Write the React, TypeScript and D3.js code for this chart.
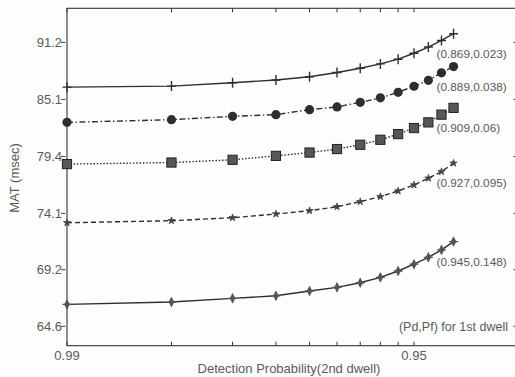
import React from "react";
import * as d3 from "d3";

// x positions are the 2nd-dwell Pd steps, drawn on a log axis (1 = 0.99, 10 = 0.95)
const steps = [1, 2, 3, 4, 5, 6, 7, 8, 9, 10, 11, 12, 13];
const xTickSteps = [1, 2, 3, 4, 5, 6, 7, 8, 9, 10];
const xTickLabels: Record<number, string> = { 1: "0.99", 10: "0.95" };
const yTicks = [64.6, 69.2, 74.1, 79.4, 85.1, 91.2];

const matPlus = [86.38, 86.49, 86.84, 87.13, 87.48, 87.93, 88.38, 88.85, 89.36, 90.01, 90.69, 91.42, 92.17];
const matCircle = [82.76, 83.03, 83.37, 83.54, 84.05, 84.33, 84.8, 85.26, 85.84, 86.47, 87.1, 87.89, 88.56];
const matSquare = [78.67, 78.82, 79.08, 79.46, 79.78, 80.12, 80.54, 81.03, 81.59, 82.19, 82.76, 83.54, 84.23];
const matStar = [73.26, 73.44, 73.71, 74.04, 74.34, 74.7, 75.16, 75.62, 76.14, 76.7, 77.33, 77.95, 78.76];
const matDiamond = [66.34, 66.53, 66.83, 67.04, 67.43, 67.73, 68.11, 68.56, 69.09, 69.66, 70.25, 70.88, 71.6];

const firstDwell = ["(0.869,0.023)", "(0.889,0.038)", "(0.909,0.06)", "(0.927,0.095)", "(0.945,0.148)"];

const series = [
  { name: "plus", values: matPlus, dash: "none", marker: "plus" },
  { name: "circle", values: matCircle, dash: "6 2.5 1.5 2.5", marker: "circle" },
  { name: "square", values: matSquare, dash: "1.5 1.8", marker: "square" },
  { name: "star", values: matStar, dash: "5 3", marker: "star" },
  { name: "diamond", values: matDiamond, dash: "none", marker: "diamond" },
];

const ink = "#2e2e2e";
const textColor = "#5a5a5a";
const font = "'Liberation Sans', Arial, sans-serif";

function Marker({ type, x, y }: { type: string; x: number; y: number }) {
  if (type === "plus")
    return (
      <path d={`M${x - 4.5},${y}H${x + 4.5}M${x},${y - 5}V${y + 5}`} stroke={ink} strokeWidth={1.4} />
    );
  if (type === "circle") return <circle cx={x} cy={y} r={4.6} fill={ink} />;
  if (type === "square")
    return <rect x={x - 4.6} y={y - 4.6} width={9.2} height={9.2} fill="#575757" stroke="#222" strokeWidth={1} />;
  if (type === "star")
    return (
      <path
        d={d3.symbol(d3.symbolStar, 16)() as string}
        transform={`translate(${x},${y})`}
        fill="#444"
        stroke="#444"
        strokeWidth={0.8}
      />
    );
  return (
    <g transform={`translate(${x},${y})`}>
      <path d={d3.symbol(d3.symbolDiamond, 30)() as string} fill="#555" />
      <path d="M-4.5,0H4.5M0,-4.5V4.5" stroke="#555" strokeWidth={1.3} />
    </g>
  );
}

export default function App() {
  const width = 515;
  const height = 377;
  const left = 67;
  const top = 8.3;
  const bottom = 345.7;
  const right = 67 + 347 * Math.log10(20);

  const x = d3.scaleLog().domain([1, 20]).range([left, right]);
  const y = d3
    .scaleLog()
    .domain([Math.pow(10, 1.8), Math.pow(10, 1.978)])
    .range([bottom, top]);

  const line = d3
    .line<number>()
    .x((_, i) => x(steps[i]))
    .y((d) => y(d))
    .curve(d3.curveLinear);

  return (
    <svg
      width={width}
      height={height}
      style={{ position: "absolute", left: 0, top: 0, background: "#fdfdfd" }}
      fontFamily={font}
    >
      {/* frame */}
      <rect x={left} y={top} width={right - left} height={bottom - top} fill="none" stroke="#333" strokeWidth={1.1} />

      {/* x ticks, bottom and top */}
      {xTickSteps.map((s) => (
        <g key={s}>
          <line x1={x(s)} x2={x(s)} y1={bottom} y2={bottom - 4} stroke="#333" />
          <line x1={x(s)} x2={x(s)} y1={top} y2={top + 4} stroke="#333" />
          {xTickLabels[s] && (
            <text x={x(s)} y={bottom + 14} textAnchor="middle" fontSize={13} fill={textColor}>
              {xTickLabels[s]}
            </text>
          )}
        </g>
      ))}

      {/* y ticks, left and right */}
      {yTicks.map((t) => (
        <g key={t}>
          <line x1={left - 6} x2={left - 1.5} y1={y(t)} y2={y(t)} stroke="#444" />
          <line x1={right - 5} x2={right} y1={y(t)} y2={y(t)} stroke="#444" />
          <text x={left - 5} y={y(t)} dy="0.35em" textAnchor="end" fontSize={13} fill={textColor}>
            {t.toFixed(1)}
          </text>
        </g>
      ))}

      {/* curves */}
      {series.map((s, i) => {
        const last = s.values[s.values.length - 1];
        return (
          <g key={s.name}>
            <path
              d={line(s.values) as string}
              fill="none"
              stroke={ink}
              strokeWidth={1.4}
              strokeDasharray={s.dash}
            />
            {s.values.map((v, j) => (
              <Marker key={j} type={s.marker} x={x(steps[j])} y={y(v)} />
            ))}
            <text
              x={x(steps[steps.length - 1]) - 17}
              y={y(last) + 20}
              dy="0.35em"
              fontSize={11.8}
              fill={textColor}
            >
              {firstDwell[i]}
            </text>
          </g>
        );
      })}

      <text x={508} y={y(yTicks[0])} dy="0.35em" textAnchor="end" fontSize={12.5} fill={textColor}>
        (Pd,Pf) for 1st dwell
      </text>

      {/* axis titles */}
      <text x={289} y={373} textAnchor="middle" fontSize={13} fill={textColor}>
        Detection Probability(2nd dwell)
      </text>
      <text
        transform={`translate(19,178) rotate(-90)`}
        textAnchor="middle"
        fontSize={13}
        fill={textColor}
      >
        MAT (msec)
      </text>
    </svg>
  );
}
